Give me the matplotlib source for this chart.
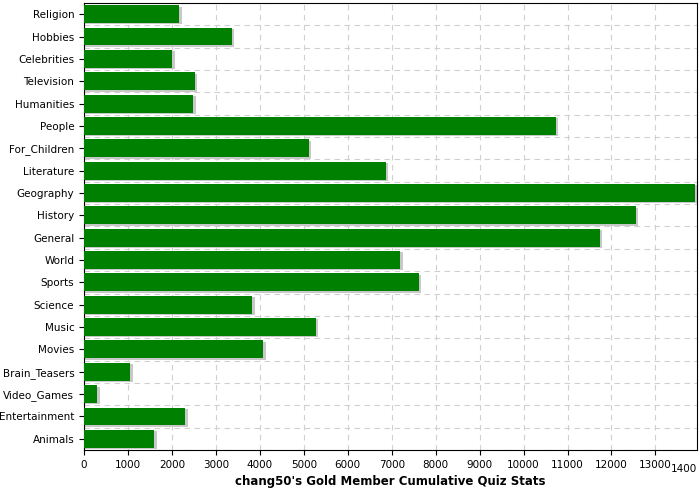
import matplotlib
matplotlib.use('Agg')
import matplotlib.pyplot as plt
import numpy as np

categories = ['Religion', 'Hobbies', 'Celebrities', 'Television', 'Humanities', 'People',
              'For_Children', 'Literature', 'Geography', 'History', 'General', 'World',
              'Sports', 'Science', 'Music', 'Movies', 'Brain_Teasers', 'Video_Games',
              'Entertainment', 'Animals']
values = [2160, 3360, 2000, 2520, 2480, 10730, 5110, 6860, 13890, 12550, 11730, 7200,
          7610, 3820, 5270, 4070, 1050, 300, 2300, 1600]

fig = plt.figure(figsize=(7, 5), dpi=100)
ax = fig.add_axes([0.12, 0.1, 0.876, 0.894])
y = np.arange(len(categories))

# shadow then bar
ax.barh(y + 0.06, np.array(values) + 60, height=0.8, color='#c8c8c8', zorder=2)
ax.barh(y, values, height=0.8, color='#008000', zorder=3)

ax.set_yticks(y)
ax.set_yticklabels(categories, fontsize=7.5)
ax.set_yticks(np.arange(-0.5, len(categories), 1), minor=True)
ax.set_ylim(len(categories) - 0.5, -0.5)
ax.set_xlim(0, 13950)
ax.set_xticks(np.arange(0, 14000, 1000))
ax.tick_params(axis='x', labelsize=7.5)
ax.tick_params(axis='y', which='minor', length=0)
ax.grid(axis='x', linestyle=(0, (5, 4)), color='#d0d0d0', linewidth=0.8, zorder=0)
ax.grid(axis='y', which='minor', linestyle=(0, (5, 4)), color='#d0d0d0', linewidth=0.8, zorder=0)
ax.set_xlabel("chang50's Gold Member Cumulative Quiz Stats", fontsize=8.5, fontweight='bold')
fig.text(0.996, 0.062, '1400', fontsize=7.5, ha='right', va='center')

fig.savefig('out.png', dpi=100)
